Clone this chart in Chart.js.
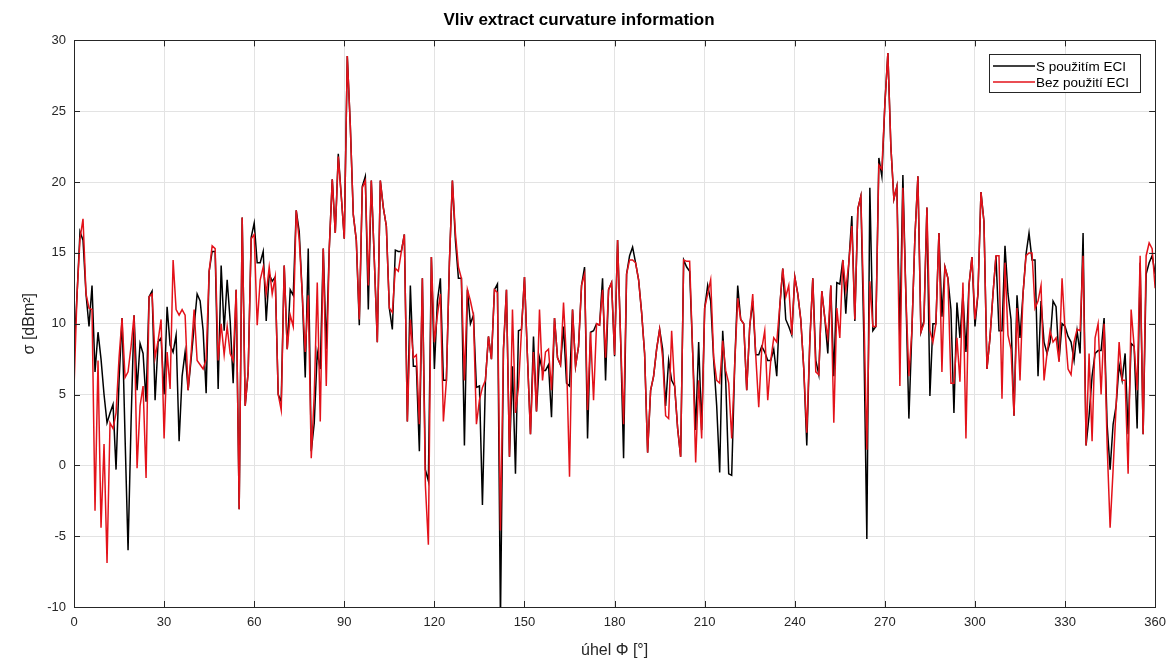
<!DOCTYPE html>
<html>
<head>
<meta charset="utf-8">
<script src="https://cdn.jsdelivr.net/npm/chart.js@4.4.1/dist/chart.umd.min.js"></script>
<style>
    html, body { margin: 0; padding: 0; background: #ffffff; }
    #wrap { width: 1174px; height: 663px; }
</style>
</head>
<body>
<div id="wrap"><canvas id="rcsChart" width="1174" height="663"></canvas></div>
<script>
// úhel 0..360 po 1°
const angles = Array.from({ length: 361 }, (_, i) => i);

const xTicks = [0, 30, 60, 90, 120, 150, 180, 210, 240, 270, 300, 330, 360];
const yTicks = [-10, -5, 0, 5, 10, 15, 20, 25, 30];

// S použitím ECI (černá)
const withEci = [
    8, 12, 16.5, 15.9, 12.1, 9.8, 12.7, 6.6, 9.4, 7.5,
    5, 3, 3.7, 4.3, -0.3, 6, 10.4, 2, -6, 3,
    10.6, 5.3, 8.6, 7.9, 4.5, 11.9, 12.3, 4.6, 8.7, 9,
    5, 11.2, 8.5, 8, 9.2, 1.7, 6.3, 8, 5.3, 7.5,
    9.8, 12.1, 11.6, 9.5, 5.1, 13.7, 15.1, 15.1, 5.4, 14.1,
    9.5, 13.1, 10.2, 5.8, 12.4, -3.1, 17.5, 4.2, 6.6, 16.1,
    17.1, 14.3, 14.3, 15.1, 10.2, 13.5, 13, 13.3, 5, 4.5,
    14.1, 8.2, 12.4, 12, 18, 16.5, 12.1, 6.2, 15.3, 1,
    3, 8, 6.8, 15.3, 8.2, 15.3, 20.2, 16.4, 22, 19,
    16, 28.9, 24, 17.7, 15.9, 9.9, 19.7, 20.4, 11, 20.1,
    14.5, 8.7, 20.1, 18.2, 16.9, 11.1, 9.6, 15.2, 15.1, 15.1,
    16.3, 3.1, 12.7, 7, 7, 1, 13.2, -0.3, -1.1, 14.7,
    6.8, 11.6, 13.2, 6, 6, 14.3, 20.1, 15.9, 13.2, 13.2,
    1.4, 12.4, 10, 10.6, 5.5, 5.6, -2.8, 6, 9.1, 7.5,
    12.4, 12.8, -11, 8.2, 12.4, 0.6, 7, -0.6, 9.5, 9.6,
    13.3, 7.6, 2.2, 9.1, 3.8, 7.6, 6.7, 6.7, 7.1, 3.4,
    10.4, 7.6, 7.1, 9.8, 5.8, 5.6, 11, 7, 8.4, 12.7,
    14, 1.9, 9.4, 9.5, 10, 9.9, 13.2, 6, 12.4, 12.9,
    7.7, 15.9, 9, 0.5, 13.5, 14.8, 15.4, 14.3, 13.1, 10.8,
    7.9, 0.9, 5.3, 6.3, 8.2, 9.6, 8.2, 4.2, 7.4, 6,
    5.6, 2.6, 0.6, 14.5, 14, 13.7, 8, 2.5, 8.7, 2.5,
    11.1, 12.7, 11.6, 7.4, 4.2, -0.5, 9.5, 6, -0.6, -0.7,
    7.1, 12.7, 10.3, 10, 5.3, 9.8, 11.6, 7.8, 7.8, 8.4,
    8, 7.4, 7.4, 8.2, 6.3, 11.2, 13.9, 10.3, 9.8, 9.2,
    13.3, 12.1, 10.3, 6.8, 1.4, 8.7, 13.2, 7.4, 6.4, 12.3,
    10.4, 7.9, 12.7, 6.3, 12.9, 12.8, 14.5, 10.7, 14.3, 17.6,
    10.2, 18.1, 19, 9, -5.2, 19.6, 9.5, 9.8, 21.7, 20.4,
    25.5, 29.1, 22.5, 18.8, 19.7, 9, 20.5, 12, 3.3, 9.5,
    16.1, 20.4, 9.4, 10.2, 18.2, 4.9, 10, 10, 16.4, 10.5,
    14, 13.2, 11, 3.7, 11.5, 9, 12.1, 8, 12.7, 14.7,
    9.8, 12.1, 19.3, 17.2, 6.8, 9, 12.1, 14.8, 9.5, 9.5,
    15.5, 12.1, 10.3, 3.5, 12, 9, 12.1, 14.9, 16.4, 14.5,
    14.5, 6.3, 11.6, 8.7, 7.9, 8.7, 11.6, 11.2, 7.4, 10,
    9.8, 9.1, 8.7, 7.4, 9.5, 7.9, 16.4, 1.4, 3.5, 6.3,
    7.9, 8.1, 8.1, 10.4, 2.9, -0.3, 2.9, 4.2, 7.1, 6,
    7.9, 2.2, 8.6, 8.4, 2.6, 14.3, 2.2, 13.5, 14.3, 14.8,
    13.5
];

// Bez použití ECI (červená)
const withoutEci = [
    5.4, 12, 16, 17.4, 12.1, 11.1, 11, -3.2, 7.4, -4.4,
    1.5, -6.9, 3, 2.6, 3.7, 7.6, 10.4, 6.2, 6.6, 8.4,
    10.6, -0.2, 4.2, 5.6, -0.9, 11.9, 12.1, 7.6, 8.8, 10.3,
    1.9, 8, 5.4, 14.5, 11, 10.6, 11, 10.6, 5.3, 7.9,
    11, 7.4, 7.1, 6.8, 7.5, 13.7, 15.5, 15.3, 7.4, 10,
    7.8, 9.8, 7.9, 7.4, 12.4, -3.1, 17.5, 4.2, 6.6, 16,
    16.3, 9.9, 13.1, 14, 12.1, 14, 12.1, 13.3, 5, 3.9,
    14.1, 8.2, 10.6, 9.8, 18, 15.9, 12.1, 8, 12, 0.5,
    5, 12.9, 3.1, 15.3, 5.6, 15.3, 20.2, 16.4, 21.8, 19,
    16, 28.9, 24, 17.7, 15.9, 10.3, 19.6, 20.1, 12.7, 20.1,
    14.5, 8.7, 20.1, 18.2, 16.9, 11.1, 10.8, 13.9, 13.7, 15.1,
    16.3, 3.1, 10.3, 7.6, 7.8, 2.9, 13.2, -1.4, -5.6, 14.7,
    8.7, 10.6, 12.1, 3.1, 6, 14.3, 20.1, 16.4, 14, 13.2,
    6, 12.4, 11.6, 10.6, 2.9, 4.6, 5.5, 6, 9.1, 7.5,
    12.4, 12.2, -4.6, 8.2, 12.4, 0.6, 11, 3.7, 5.5, 9.5,
    13.3, 7.6, 2.2, 8, 3.8, 11, 6, 8, 8.2, 5.3,
    10.4, 7.6, 7.1, 11.5, 7.4, -0.8, 11, 7, 8.4, 12.7,
    13.5, 3.9, 9.4, 4.6, 10, 9.9, 12.4, 7.6, 12.4, 12.9,
    7.8, 15.9, 9, 2.9, 13.5, 14.5, 14.5, 14.3, 13.1, 10.8,
    7.9, 0.9, 5.3, 6.3, 8.2, 9.6, 7.6, 3.5, 3.3, 9.5,
    5.6, 2.6, 0.6, 14.5, 14.4, 14.4, 8, 0.2, 6, 1.9,
    11.1, 12.1, 13.1, 7.6, 6, 5.8, 8.8, 6.7, 5.8, 1.9,
    7.1, 11.8, 10.3, 10, 5.3, 9.8, 12.1, 7.8, 4.1, 8.2,
    9.5, 4.6, 7.4, 9, 8.7, 11.2, 13.9, 11.9, 12.7, 9.2,
    13.3, 12.1, 10.3, 6.8, 2.3, 8.7, 13.2, 6.6, 6.4, 12.3,
    10.4, 9, 12.7, 3, 11.1, 9, 14.5, 12.4, 14.3, 16.9,
    10.3, 18.1, 19, 11, 1.1, 13, 9.8, 9.8, 21.2, 20.9,
    25.5, 29.1, 22.5, 18.8, 19.7, 5.6, 19.6, 12, 6.3, 9.5,
    16.1, 20.4, 9.4, 10, 18.2, 9.5, 8.7, 10, 16.4, 6.6,
    14, 13.2, 5.8, 5.8, 9, 5.9, 12.9, 1.9, 12.7, 14.7,
    10.3, 12.1, 19.3, 17.2, 6.8, 9, 12.1, 14.8, 14.8, 4.7,
    14.3, 9.2, 8.2, 3.5, 11.1, 6, 12.1, 14.8, 15, 15,
    11.1, 11.6, 12.7, 6, 7.9, 9.5, 8.7, 9, 7.3, 13.2,
    9.5, 6.8, 6.4, 8.7, 9.6, 9.5, 14.8, 1.4, 7.9, 1.7,
    9, 10, 5, 10, 1.5, -4.4, -0.3, 4.2, 8.7, 6,
    6, -0.6, 11, 8.4, 5.3, 14.8, 2.2, 14.8, 15.7, 15.3,
    12.5
];

const axisColor = '#262626';
const gridColor = '#e3e3e3';
const fontName = "'Liberation Sans', Arial, sans-serif";

// rámeček kolem grafu + ticky dovnitř (jako v MATLABu)
const boxPlugin = {
    id: 'boxPlugin',
    afterDraw(chart) {
        const { ctx, chartArea: a, scales } = chart;
        ctx.save();
        ctx.strokeStyle = axisColor;
        ctx.lineWidth = 1;
        ctx.beginPath();
        xTicks.forEach(v => {
            const px = Math.round(scales.x.getPixelForValue(v)) + 0.5;
            ctx.moveTo(px, a.bottom); ctx.lineTo(px, a.bottom - 6);
            ctx.moveTo(px, a.top); ctx.lineTo(px, a.top + 6);
        });
        yTicks.forEach(v => {
            const py = Math.round(scales.y.getPixelForValue(v)) + 0.5;
            ctx.moveTo(a.left, py); ctx.lineTo(a.left + 6, py);
            ctx.moveTo(a.right, py); ctx.lineTo(a.right - 6, py);
        });
        ctx.stroke();
        ctx.strokeRect(Math.round(a.left) + 0.5, Math.round(a.top) + 0.5,
            Math.round(a.right - a.left), Math.round(a.bottom - a.top));

        // legenda vpravo nahoře
        const bx = Math.round(a.right) - 166, by = Math.round(a.top) + 14, bw = 151, bh = 38;
        ctx.fillStyle = '#ffffff';
        ctx.fillRect(bx, by, bw, bh);
        ctx.strokeStyle = axisColor;
        ctx.strokeRect(bx + 0.5, by + 0.5, bw, bh);
        ctx.font = '13.5px ' + fontName;
        ctx.textBaseline = 'middle';
        chart.data.datasets.forEach((ds, i) => {
            const ly = by + 12 + i * 16;
            ctx.strokeStyle = ds.borderColor;
            ctx.lineWidth = 1.5;
            ctx.beginPath();
            ctx.moveTo(bx + 4, ly); ctx.lineTo(bx + 46, ly);
            ctx.stroke();
            ctx.fillStyle = '#000000';
            ctx.fillText(ds.label, bx + 47, ly + 1);
        });
        ctx.restore();
    }
};

function renderChart() {
    const ctx = document.getElementById('rcsChart').getContext('2d');

    new Chart(ctx, {
        type: 'line',
        data: {
            datasets: [
                {
                    label: 'S použitím ECI',
                    data: angles.map((a, i) => ({ x: a, y: withEci[i] })),
                    borderColor: '#000000',
                    borderWidth: 1.5,
                    pointRadius: 0,
                    tension: 0,
                    order: 1
                },
                {
                    label: 'Bez použití ECI',
                    data: angles.map((a, i) => ({ x: a, y: withoutEci[i] })),
                    borderColor: '#e3121a',
                    borderWidth: 1.5,
                    pointRadius: 0,
                    tension: 0,
                    order: 0
                }
            ]
        },
        options: {
            responsive: false,
            animation: false,
            layout: { padding: { left: 0, right: 16, top: 0, bottom: 0 } },
            plugins: {
                legend: { display: false },
                tooltip: { enabled: false },
                title: {
                    display: true,
                    text: 'Vliv extract curvature information',
                    color: '#000000',
                    font: { family: fontName, size: 17, weight: 'bold' },
                    padding: { top: 10, bottom: 10 }
                }
            },
            scales: {
                x: {
                    type: 'linear',
                    min: 0,
                    max: 360,
                    afterBuildTicks: s => { s.ticks = xTicks.map(v => ({ value: v })); },
                    afterFit: s => { s.height = 56; },
                    grid: { color: gridColor, drawTicks: false },
                    border: { display: false },
                    ticks: {
                        color: axisColor,
                        padding: 8,
                        maxRotation: 0,
                        font: { family: fontName, size: 13 }
                    },
                    title: {
                        display: true,
                        text: 'úhel Φ [°]',
                        color: axisColor,
                        font: { family: fontName, size: 16 },
                        padding: { top: 0, bottom: 3 }
                    }
                },
                y: {
                    min: -10,
                    max: 30,
                    afterBuildTicks: s => { s.ticks = yTicks.map(v => ({ value: v })); },
                    afterFit: s => { s.width = 74; },
                    grid: { color: gridColor, drawTicks: false },
                    border: { display: false },
                    ticks: {
                        color: axisColor,
                        padding: 8,
                        font: { family: fontName, size: 13 }
                    },
                    title: {
                        display: true,
                        text: 'σ [dBm²]',
                        color: axisColor,
                        font: { family: fontName, size: 16 },
                        padding: { top: 20, bottom: 0 }
                    }
                }
            }
        },
        plugins: [boxPlugin]
    });
}

document.addEventListener('DOMContentLoaded', renderChart);
</script>
</body>
</html>
